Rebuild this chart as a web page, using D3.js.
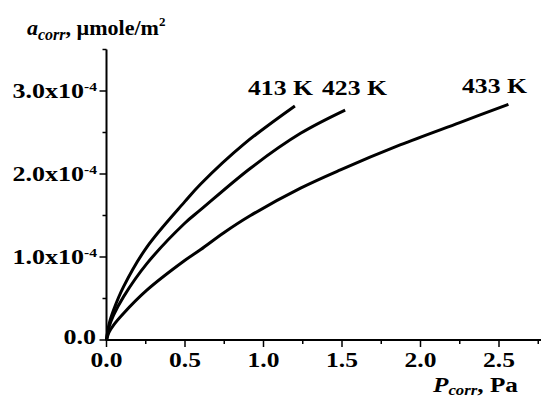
<!DOCTYPE html>
<html>
<head>
<meta charset="utf-8">
<script src="https://cdn.jsdelivr.net/npm/d3@7"></script>
<style>
  html, body { margin: 0; padding: 0; background: #fff; }
  svg text { font-family: "Liberation Serif", "Times New Roman", Times, serif; font-weight: bold; fill: #000; }
</style>
</head>
<body>
<svg id="chart" width="541" height="398"></svg>
<script>
// ── DATA (a in units of 1e-4 µmole/m², P in Pa) ──
const series   = ['413 K', '423 K', '433 K'];
const p413 = [0, 0.015, 0.045, 0.108, 0.257, 0.50, 0.60, 0.875, 1.20];
const a413 = [0, 0.18, 0.36, 0.64, 1.12, 1.67, 1.88, 2.36, 2.82];
const p423 = [0, 0.015, 0.045, 0.108, 0.257, 0.50, 0.60, 0.917, 1.236, 1.52];
const a423 = [0, 0.15, 0.30, 0.52, 0.92, 1.41, 1.57, 2.07, 2.49, 2.77];
const p433 = [0, 0.015, 0.045, 0.108, 0.257, 0.50, 0.60, 0.745, 0.917, 1.236, 1.49, 1.87, 2.25, 2.56];
const a433 = [0, 0.09, 0.18, 0.32, 0.60, 0.96, 1.09, 1.29, 1.50, 1.83, 2.05, 2.35, 2.62, 2.84];
const xTicks = [0, 0.5, 1.0, 1.5, 2.0, 2.5];
const yTicks = [0, 1, 2, 3];

const curves = [
  { name: series[0], p: p413, a: a413 },
  { name: series[1], p: p423, a: a423 },
  { name: series[2], p: p433, a: a433 }
];

// ── LAYOUT ──
const X0 = 106.5, Y0 = 340;
const x = d3.scaleLinear().domain([0, 2.78]).range([X0, X0 + 2.78 * 157]);
const y = d3.scaleLinear().domain([0, 3.5]).range([Y0, Y0 - 3.5 * 83]);

const svg = d3.select('#chart');

// ── CURVES ──
const line = d3.line().x(d => x(d[0])).y(d => y(d[1])).curve(d3.curveCatmullRom.alpha(0.5));
svg.append('g').selectAll('path')
  .data(curves).enter().append('path')
  .attr('d', c => line(c.p.map((v, i) => [v, c.a[i]])))
  .attr('fill', 'none').attr('stroke', '#000').attr('stroke-width', 3);

// ── AXES ──
const ax = svg.append('g').attr('stroke', '#000');
ax.append('line').attr('x1', X0).attr('x2', 541).attr('y1', Y0).attr('y2', Y0).attr('stroke-width', 2);
ax.append('line').attr('x1', X0).attr('x2', X0).attr('y1', Y0 + 1).attr('y2', y(3.5)).attr('stroke-width', 2);

d3.range(0, 2.8, 0.25).forEach(v => {
  const major = Math.abs(v * 2 - Math.round(v * 2)) < 1e-6;
  ax.append('line').attr('x1', x(v)).attr('x2', x(v))
    .attr('y1', Y0).attr('y2', Y0 + (major ? 7 : 4)).attr('stroke-width', 1.5);
});
d3.range(0, 3.51, 0.5).forEach(v => {
  const major = Math.abs(v - Math.round(v)) < 1e-6;
  ax.append('line').attr('x1', X0).attr('x2', X0 - (major ? 7 : 4))
    .attr('y1', y(v)).attr('y2', y(v)).attr('stroke-width', 1.5);
});

// x tick labels
svg.append('g').selectAll('text').data(xTicks).enter().append('text')
  .attr('transform', d => `translate(${x(d)},367) scale(1.16,1)`)
  .attr('text-anchor', 'middle').attr('font-size', 22)
  .text(d => d3.format('.1f')(d));

// y tick labels
yTicks.forEach(v => {
  const t = svg.append('text')
    .attr('transform', v === 0 ? 'translate(96,344) scale(1.3,1)'
                               : `translate(97,${y(v) + 7}) scale(1.3,1)`)
    .attr('text-anchor', 'end').attr('font-size', 20);
  if (v === 0) { t.text('0.0'); return; }
  t.append('tspan').text(d3.format('.1f')(v) + 'x10');
  t.append('tspan').attr('font-size', 12).attr('dy', -7).text('-4');
});

// ── TITLES ──
const yt = svg.append('text').attr('transform', 'translate(27,35)').attr('font-size', 22);
yt.append('tspan').attr('font-style', 'italic').text('a');
yt.append('tspan').attr('font-style', 'italic').attr('font-size', 16).attr('dy', 5).text('corr');
yt.append('tspan').attr('dy', -5).text(', µmole/m');
yt.append('tspan').attr('font-size', 13).attr('dy', -9).text('2');

const xt = svg.append('text').attr('transform', 'translate(433,392) scale(1.2,1)').attr('font-size', 21);
xt.append('tspan').attr('font-style', 'italic').text('P');
xt.append('tspan').attr('font-style', 'italic').attr('font-size', 14).attr('dy', 3).text('corr');
xt.append('tspan').attr('dy', -3).text(', Pa');

// ── CURVE LABELS ──
const labelPos = [[248, 95], [322, 95], [462, 93]];
svg.append('g').selectAll('text').data(curves).enter().append('text')
  .attr('transform', (c, i) => `translate(${labelPos[i][0]},${labelPos[i][1]}) scale(1.17,1)`)
  .attr('font-size', 22)
  .text(c => c.name);
</script>
</body>
</html>
